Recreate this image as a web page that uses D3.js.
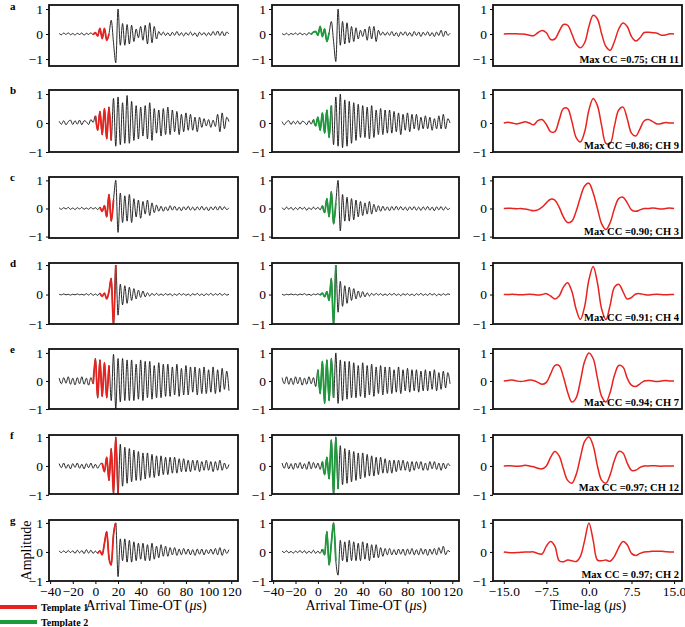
<!DOCTYPE html>
<html>
<head>
<meta charset="utf-8">
<script src="https://cdn.jsdelivr.net/npm/d3@7"></script>
<style>
  body { margin: 0; background: #fff; }
  text { font-family: "Liberation Serif", "Times New Roman", serif; }
</style>
</head>
<body>
<svg id="fig"></svg>
<script>
// ---- data: waveforms sampled every 2 us from -32 us, CC every 0.75 us from -15 us
const tStart = -32, tStep = 2;
const lagStart = -15, lagStep = 0.75;

const rowLetters = ["a", "b", "c", "d", "e", "f", "g"];
const ccLabels = ["Max CC =0.75; CH 11", "Max CC =0.86; CH 9", "Max CC =0.90; CH 3",
  "Max CC =0.91; CH 4", "Max CC =0.94; CH 7", "Max CC =0.97; CH 12", "Max CC = 0.97; CH 2"];

// template windows (us) for template 1 (left column) and template 2 (middle column)
const template1 = [[-2, 12], [0, 14], [4, 16], [4, 18], [-2, 12], [6, 20], [2, 18]];
const template2 = [[-6, 10], [-4, 12], [4, 16], [2, 16], [0, 14], [4, 18], [4, 16]];

const timeTicks = [-40, -20, 0, 20, 40, 60, 80, 100, 120];
const lagTicks = [-15, -7.5, 0, 7.5, 15];
const ampTicks = [-1, 0, 1];

const aCol1 = [0.02,-0.03,0.04,-0.02,0.05,-0.03,0.02,-0.04, 0.03,-0.02,0.04,-0.05,0.03,-0.02,0.05,-0.03,
  0.05,-0.08,0.22,-0.18,0.22,-0.25,0.0,0.55, -0.35,-1.15,1.0,-0.45,0.42,-0.45,0.38,-0.4,
  0.35,-0.3,0.2,-0.15,0.3,-0.25,0.35,-0.4, 0.45,-0.35,0.3,-0.2,0.1,-0.05,0.08,-0.06,
  0.05,-0.08,0.07,-0.05,0.1,-0.06,0.05,-0.08, 0.06,-0.05,0.08,-0.06,0.05,-0.1,0.07,-0.04,
  0.06,-0.07,0.05,-0.06,0.1,-0.05,0.12,-0.06, 0.1,-0.08,0.08,0.0];
const aCol2 = [0.02,-0.03,0.03,-0.04,0.02,-0.02,0.04,-0.03, 0.05,-0.03,0.02,-0.04,0.06,-0.02,0.08,0.1,
  -0.05,0.3,-0.1,0.2,-0.3,0.05,0.5,-0.3, -1.1,1.0,-0.45,0.5,-0.4,0.45,-0.35,0.3,
  -0.3,0.25,-0.2,0.15,-0.1,0.2,-0.25,0.3, -0.2,0.3,-0.3,0.15,-0.05,0.08,-0.06,0.07,
  -0.05,0.1,-0.08,0.06,-0.1,0.08,-0.05,0.09, -0.07,0.06,-0.09,0.1,-0.06,0.08,-0.1,0.07,
  -0.05,0.09,-0.08,0.06,-0.1,0.08,-0.06,0.15, -0.1,0.12,-0.05,0.03];
const bCol1 = [0.06,-0.04,0.08,-0.06,0.05,0.1,-0.05,0.08, -0.04,0.1,-0.06,0.08,0.04,-0.05,0.12,0.02,
  0.25,-0.25,0.4,-0.4,0.5,-0.55,0.55,-0.6, 0.85,-0.8,0.9,-0.75,0.7,-0.7,0.95,-0.7,
  0.75,-0.6,0.6,-0.55,0.55,-0.45,0.6,-0.55, 0.7,-0.6,0.5,-0.35,0.45,-0.45,0.5,-0.4,
  0.55,-0.4,0.45,-0.3,0.4,-0.4,0.3,-0.3, 0.35,-0.25,0.3,-0.25,0.2,-0.3,0.2,-0.15,
  0.15,-0.1,0.12,-0.15,0.1,-0.12,0.3,-0.3, 0.35,-0.2,0.2,0.05];
const bCol2 = [0.05,-0.06,0.04,0.08,-0.05,0.06,-0.03,0.07, -0.05,0.06,0.03,-0.06,0.08,-0.04,0.12,-0.1,
  0.2,-0.25,0.35,-0.35,0.45,-0.5,0.6,-0.75, 0.9,-0.8,1.0,-0.85,0.8,-0.8,0.75,-0.7,
  0.7,-0.6,0.65,-0.5,0.6,-0.5,0.55,-0.55, 0.6,-0.5,0.45,-0.4,0.5,-0.4,0.45,-0.35,
  0.45,-0.35,0.4,-0.3,0.35,-0.4,0.3,-0.25, 0.35,-0.3,0.3,-0.2,0.3,-0.25,0.2,-0.2,
  0.25,-0.2,0.2,-0.25,0.15,-0.2,0.25,-0.2, 0.3,-0.2,0.15,0.0];
const cCol1 = [0.02,-0.03,0.03,-0.02,0.04,-0.03,0.02,-0.04, 0.03,-0.02,0.04,-0.03,0.02,-0.03,0.04,-0.02,
  0.03,-0.04,0.05,-0.1,0.1,-0.3,0.5,-0.45, 0.3,1.0,-0.85,0.55,-0.5,0.45,-0.45,0.5,
  -0.5,0.35,-0.3,0.3,-0.35,0.25,-0.2,0.3, -0.25,0.2,-0.15,0.12,-0.1,0.08,-0.1,0.06,
  -0.08,0.1,-0.06,0.08,-0.07,0.05,-0.08,0.06, -0.05,0.08,-0.06,0.05,-0.07,0.06,-0.05,0.08,
  -0.06,0.05,-0.08,0.06,-0.05,0.07,-0.06,0.08, -0.05,0.06,-0.04,0.02];
const cCol2 = [0.03,-0.04,0.05,-0.03,0.04,-0.05,0.03,-0.04, 0.05,-0.03,0.04,-0.06,0.03,-0.04,0.05,-0.03,
  0.04,-0.05,0.1,-0.15,0.35,-0.3,0.6,-0.55, 0.2,1.0,-0.8,0.5,-0.45,0.4,-0.45,0.35,
  -0.4,0.3,-0.3,0.25,-0.25,0.2,-0.2,0.25, -0.2,0.15,-0.12,0.1,-0.1,0.08,-0.07,0.06,
  -0.08,0.07,-0.06,0.08,-0.05,0.07,-0.06,0.05, -0.07,0.06,-0.05,0.07,-0.06,0.05,-0.07,0.06,
  -0.05,0.07,-0.06,0.05,-0.08,0.06,-0.05,0.07, -0.06,0.05,-0.04,0.02];
const dCol1 = [0.01,-0.01,0.02,-0.01,0.01,-0.02,0.01,-0.01, 0.02,-0.01,0.01,-0.02,0.03,-0.02,0.04,-0.03,
  0.02,-0.03,0.05,-0.06,0.05,-0.15,0.1,0.55, -1.05,1.0,-0.7,0.35,-0.35,0.3,-0.3,0.25,
  -0.2,0.2,-0.15,0.15,-0.1,0.12,-0.08,0.06, -0.05,0.04,-0.03,0.04,-0.03,0.02,-0.03,0.03,
  -0.02,0.03,-0.04,0.02,-0.03,0.04,-0.02,0.03, -0.03,0.02,-0.04,0.03,-0.02,0.04,-0.03,0.02,
  -0.04,0.03,-0.02,0.04,-0.03,0.03,-0.02,0.04, -0.03,0.03,-0.02,0.01];
const dCol2 = [0.01,-0.02,0.01,-0.01,0.02,-0.01,0.01,-0.02, 0.02,-0.01,0.03,-0.02,0.01,-0.03,0.02,-0.01,
  0.03,-0.02,0.05,-0.08,0.1,-0.2,0.55,-1.05, 1.0,-0.6,0.45,-0.4,0.3,-0.3,0.25,-0.2,
  0.2,-0.15,0.12,-0.1,0.1,-0.08,0.06,-0.05, 0.04,-0.03,0.04,-0.02,0.03,-0.03,0.02,-0.03,
  0.03,-0.02,0.04,-0.03,0.02,-0.04,0.03,-0.02, 0.03,-0.03,0.02,-0.04,0.03,-0.02,0.04,-0.03,
  0.02,-0.03,0.04,-0.02,0.03,-0.04,0.02,-0.03, 0.03,-0.02,0.02,0.0];
const eCol1 = [0.1,-0.1,0.12,-0.08,0.15,-0.12,0.1,-0.14, 0.12,-0.1,0.15,-0.12,0.1,-0.15,0.12,-0.1,
  0.8,-0.6,0.75,-0.55,0.65,-0.6,0.55,-0.7, 0.95,-1.0,0.8,-0.75,0.8,-0.7,0.75,-0.7,
  0.75,-0.7,0.6,-0.65,0.75,-0.7,0.7,-0.6, 0.7,-0.65,0.55,-0.6,0.65,-0.6,0.6,-0.55,
  0.6,-0.55,0.5,-0.5,0.6,-0.55,0.45,-0.5, 0.55,-0.5,0.5,-0.4,0.5,-0.5,0.45,-0.45,
  0.5,-0.45,0.4,-0.4,0.5,-0.45,0.4,-0.4, 0.45,-0.3,0.35,-0.35];
const eCol2 = [0.12,-0.1,0.15,-0.12,0.1,-0.13,0.15,-0.1, 0.13,-0.15,0.1,-0.12,0.15,-0.1,0.12,-0.2,
  0.4,-0.45,0.7,-0.8,0.75,-0.7,0.8,-0.6, 1.0,-0.8,0.75,-0.7,0.7,-0.65,0.7,-0.6,
  0.65,-0.6,0.55,-0.55,0.65,-0.6,0.55,-0.5, 0.6,-0.55,0.5,-0.45,0.55,-0.5,0.5,-0.45,
  0.5,-0.45,0.4,-0.4,0.5,-0.45,0.4,-0.35, 0.45,-0.4,0.4,-0.35,0.4,-0.4,0.35,-0.35,
  0.4,-0.35,0.35,-0.3,0.4,-0.35,0.3,-0.3, 0.35,-0.25,0.3,-0.1];
const fCol1 = [0.08,-0.06,0.1,-0.08,0.05,-0.1,0.08,-0.05, 0.1,-0.08,0.06,-0.1,0.08,-0.06,0.1,-0.08,
  0.06,-0.08,0.05,0.1,-0.2,0.3,-0.5,0.6, -0.95,1.0,-1.0,0.75,-0.7,0.65,-0.6,0.6,
  -0.55,0.55,-0.5,0.5,-0.5,0.45,-0.45,0.45, -0.4,0.4,-0.4,0.35,-0.35,0.35,-0.3,0.3,
  -0.3,0.3,-0.25,0.3,-0.25,0.25,-0.2,0.25, -0.2,0.2,-0.2,0.2,-0.15,0.2,-0.2,0.15,
  -0.15,0.2,-0.15,0.15,-0.2,0.15,-0.15,0.2, -0.15,0.1,-0.1,0.05];
const fCol2 = [0.1,-0.08,0.12,-0.1,0.08,-0.12,0.1,-0.08, 0.12,-0.1,0.08,-0.12,0.15,-0.1,0.12,-0.08,
  0.1,-0.12,0.15,-0.3,0.3,-0.45,0.9,-1.0, 1.0,-0.8,0.7,-0.65,0.6,-0.6,0.55,-0.55,
  0.5,-0.5,0.45,-0.45,0.45,-0.4,0.4,-0.35, 0.35,-0.35,0.3,-0.3,0.3,-0.25,0.25,-0.25,
  0.2,-0.25,0.2,-0.2,0.2,-0.15,0.2,-0.15, 0.15,-0.2,0.15,-0.15,0.15,-0.1,0.15,-0.15,
  0.1,-0.15,0.15,-0.1,0.15,-0.12,0.1,-0.15, 0.1,-0.1,0.08,0.0];
const gCol1 = [0.03,-0.02,0.04,-0.03,0.05,-0.02,0.04,-0.05, 0.06,-0.03,0.05,-0.06,0.08,-0.04,0.06,-0.05,
  0.03,-0.05,0.04,-0.1,0.3,0.7,-0.2,-0.45, 0.6,1.0,-0.85,0.45,-0.3,0.45,-0.35,0.4,
  -0.35,0.35,-0.3,0.3,-0.25,0.3,-0.3,0.25, -0.3,0.3,-0.25,0.2,-0.2,0.25,-0.15,0.2,
  -0.15,0.15,-0.1,0.15,-0.12,0.1,-0.1,0.12, -0.08,0.1,-0.1,0.08,-0.12,0.1,-0.08,0.1,
  -0.1,0.08,-0.06,0.1,-0.08,0.12,-0.1,0.15, -0.12,0.1,-0.05,0.08];
const gCol2 = [0.03,-0.02,0.04,-0.03,0.02,-0.04,0.03,-0.02, 0.05,-0.03,0.04,-0.05,0.03,-0.04,0.06,-0.05,
  0.03,-0.05,0.1,-0.1,0.7,-0.45,0.3,1.0, -0.3,-0.8,0.4,-0.3,0.35,-0.35,0.4,-0.3,
  0.35,-0.3,0.3,-0.3,0.35,-0.25,0.3,-0.3, 0.25,-0.2,0.25,-0.2,0.15,-0.15,0.12,-0.1,
  0.12,-0.1,0.08,-0.1,0.1,-0.08,0.1,-0.12, 0.1,-0.08,0.12,-0.1,0.08,-0.1,0.12,-0.08,
  0.1,-0.12,0.1,-0.08,0.12,-0.1,0.15,-0.05, 0.2,-0.1,0.05,0.0];

const ccA = [0,0.01,0.01,0.01,0,-0.01,-0.05,-0.07,0.05,0.14,0.05,-0.22,-0.2,0.1,0.38,0.35,0,-0.4,-0.55,-0.35,
  0.3,0.75,0.6,0,-0.5,-0.65,-0.3,0.2,0.44,0.3,-0.1,-0.28,-0.15,0.06,0.07,0.05,0.03,-0.05,-0.04,0.01,0];
const ccB = [0,0.03,0,-0.03,0,0.04,0,-0.06,0.08,0.12,-0.05,-0.3,-0.3,0.1,0.5,0.5,0.05,-0.5,-0.65,-0.3,
  0.45,0.85,0.6,-0.1,-0.7,-0.7,-0.1,0.45,0.55,0.15,-0.35,-0.45,-0.2,0.08,0.12,0.05,-0.03,-0.02,0.02,0,0];
const ccC = [0,0.01,0,-0.01,0,-0.02,-0.05,-0.08,-0.05,0.05,0.2,0.33,0.3,0.05,-0.3,-0.5,-0.45,-0.1,0.4,0.8,
  0.9,0.55,0,-0.55,-0.75,-0.5,0,0.35,0.4,0.2,-0.05,-0.1,-0.05,0,0,0.02,0,-0.02,0,0.02,0];
const ccD = [0,0,0.01,0,-0.01,0,0.01,0,-0.02,0,0.03,-0.05,-0.15,-0.05,0.25,0.4,0.1,-0.5,-0.85,-0.4,
  0.5,0.95,0.4,-0.5,-0.85,-0.35,0.25,0.35,0.1,-0.15,-0.1,0.02,0.03,0,-0.02,0,0.01,0,-0.01,0,0];
const ccE = [0,0.02,0.03,0,-0.02,0,0.03,0.02,-0.05,-0.12,-0.05,0.25,0.55,0.55,0.15,-0.4,-0.75,-0.6,0,0.7,
  1.0,0.8,0.1,-0.55,-0.75,-0.4,0.2,0.55,0.5,0.1,-0.15,-0.2,-0.1,0,0.02,0,-0.02,0,0.02,0,0];
const ccF = [0,0.01,0,-0.01,0,0.02,0,-0.03,-0.08,-0.1,0,0.3,0.5,0.35,-0.1,-0.5,-0.6,-0.3,0.3,0.85,
  1.0,0.7,0,-0.5,-0.6,-0.3,0.2,0.5,0.45,0.1,-0.15,-0.15,-0.05,0,0,0.01,0,-0.01,0,0,0];
const ccG = [0,-0.02,-0.03,-0.02,-0.01,0,0,0,-0.05,-0.07,0.2,0.36,0.2,-0.3,-0.34,-0.28,-0.3,-0.33,-0.15,0.4,
  1.0,0.4,-0.28,-0.3,-0.28,-0.32,-0.15,0.15,0.36,0.25,-0.05,-0.12,-0.05,0,0.01,0.02,0.02,0.02,0.01,0,0];

const waves1 = [aCol1, bCol1, cCol1, dCol1, eCol1, fCol1, gCol1];
const waves2 = [aCol2, bCol2, cCol2, dCol2, eCol2, fCol2, gCol2];
const ccs = [ccA, ccB, ccC, ccD, ccE, ccF, ccG];

// ---- layout
const red = "#e8231f", green = "#1e9a3c";
const boxTop = [5, 90, 177, 263, 349, 435, 520];
const boxBot = [66, 152, 238, 324, 409, 494, 581];
const yDom = [[-1.28, 1.16], [-1, 1.14], [-1.05, 1.12], [-1, 1.07], [-1, 1.14], [-0.97, 1.07], [-1, 1.1]];
const cols = [
  {x0: 49, x1: 238, dom: [-41, 126]},
  {x0: 272, x1: 459, dom: [-41, 126]},
  {x0: 493, x1: 682, dom: [-16.9, 16.4]}
];

const svg = d3.select("#fig").attr("width", 685).attr("height", 627);
const defs = svg.append("defs");

function toPts(vals, t0, dt) {
  return vals.map((v, i) => ({t: t0 + i * dt, v: v}));
}

function drawPanel(r, c) {
  var col = cols[c];
  var x = d3.scaleLinear().domain(col.dom).range([col.x0, col.x1]);
  var y = d3.scaleLinear().domain(yDom[r]).range([boxBot[r], boxTop[r]]);
  var id = "clip-" + r + "-" + c;
  defs.append("clipPath").attr("id", id).append("rect")
    .attr("x", col.x0).attr("y", boxTop[r])
    .attr("width", col.x1 - col.x0).attr("height", boxBot[r] - boxTop[r]);

  var g = svg.append("g");
  var plot = g.append("g").attr("clip-path", "url(#" + id + ")");

  if (c < 2) {
    var pts = toPts(c == 0 ? waves1[r] : waves2[r], tStart, tStep);
    var line = d3.line().x(d => x(d.t)).y(d => y(d.v)).curve(d3.curveMonotoneX);
    plot.append("path").datum(pts)
      .attr("fill", "none").attr("stroke", "#111").attr("stroke-width", 0.9)
      .attr("d", line);
    var win = c == 0 ? template1[r] : template2[r];
    plot.append("path").datum(pts.filter(p => p.t >= win[0] && p.t <= win[1]))
      .attr("fill", "none").attr("stroke", c == 0 ? red : green).attr("stroke-width", 1.8)
      .attr("d", line);
  } else {
    var cpts = toPts(ccs[r], lagStart, lagStep);
    plot.append("path").datum(cpts)
      .attr("fill", "none").attr("stroke", red).attr("stroke-width", 1.5)
      .attr("d", d3.line().x(d => x(d.t)).y(d => y(d.v)).curve(d3.curveCatmullRom.alpha(0.5)));
    g.append("text")
      .attr("x", col.x1 - 3).attr("y", boxBot[r] - 3)
      .attr("text-anchor", "end").attr("font-size", "10.5px").attr("font-weight", "bold")
      .text(ccLabels[r]);
  }

  // y axis
  var ya = g.append("g").attr("transform", "translate(" + col.x0 + ",0)")
    .call(d3.axisLeft(y).tickValues(ampTicks).tickSize(3).tickPadding(3).tickFormat(d3.format("d")));
  ya.select(".domain").remove();
  ya.selectAll("text").attr("font-size", "13.5px").attr("font-family", "Liberation Serif");

  // x axis only on the bottom row
  if (r == 6) {
    var xa = g.append("g").attr("transform", "translate(0," + boxBot[r] + ")")
      .call(d3.axisBottom(x).tickValues(c < 2 ? timeTicks : lagTicks).tickSize(3).tickPadding(2)
        .tickFormat(c < 2 ? d3.format("d") : d3.format(".1f")));
    xa.select(".domain").remove();
    xa.selectAll("text").attr("font-size", "13.5px").attr("font-family", "Liberation Serif");
  }

  // frame
  g.append("rect")
    .attr("x", col.x0).attr("y", boxTop[r])
    .attr("width", col.x1 - col.x0).attr("height", boxBot[r] - boxTop[r])
    .attr("fill", "none").attr("stroke", "#111").attr("stroke-width", 1.8);
}

for (var r = 0; r < 7; r++) {
  for (var c = 0; c < 3; c++) drawPanel(r, c);
  svg.append("text").attr("x", 10).attr("y", Math.max(boxTop[r] + 4, 10))
    .attr("font-size", "11px").attr("font-weight", "bold").text(rowLetters[r]);
}

// axis titles
function muLabel(xc, pre) {
  var t = svg.append("text").attr("x", xc).attr("y", 610).attr("text-anchor", "middle").attr("font-size", "14px");
  t.append("tspan").text(pre + " (");
  t.append("tspan").attr("font-style", "italic").text("μ");
  t.append("tspan").text("s)");
}
muLabel(146, "Arrival Time-OT");
muLabel(366, "Arrival Time-OT");
muLabel(588, "Time-lag");

svg.append("text")
  .attr("transform", "translate(31," + (boxTop[6] + boxBot[6]) / 2 + ") rotate(-90)")
  .attr("text-anchor", "middle").attr("font-size", "14px").text("Amplitude");

// legend
const legend = [{name: "Template 1", color: red}, {name: "Template 2", color: green}];
legend.forEach((d, i) => {
  var yy = 607 + i * 15;
  svg.append("line").attr("x1", 0).attr("x2", 37).attr("y1", yy).attr("y2", yy)
    .attr("stroke", d.color).attr("stroke-width", 4);
  svg.append("text").attr("x", 41).attr("y", yy + 4)
    .attr("font-size", "10px").attr("font-weight", "bold").text(d.name);
});
</script>
</body>
</html>
